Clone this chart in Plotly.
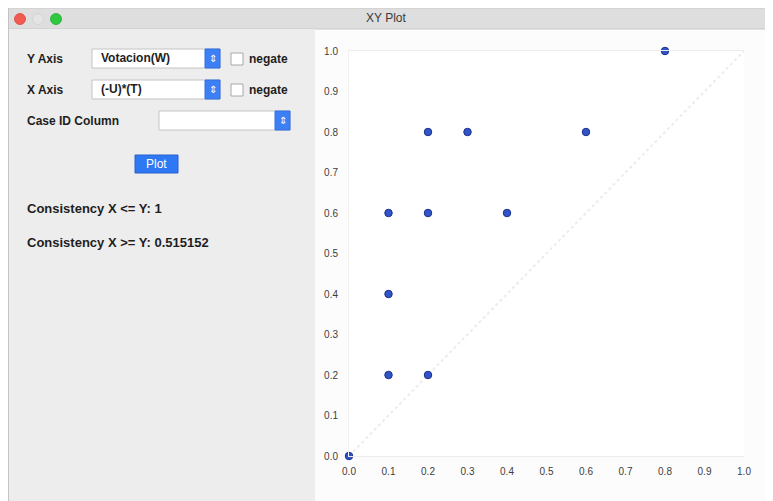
import plotly.graph_objects as go

# ---- data ----
x_vals = [0.0, 0.1, 0.1, 0.1, 0.2, 0.2, 0.2, 0.3, 0.4, 0.6, 0.8]
y_vals = [0.0, 0.2, 0.4, 0.6, 0.2, 0.6, 0.8, 0.8, 0.6, 0.8, 1.0]
diag_x = [0.0, 1.0]
diag_y = [0.0, 1.0]
tick_vals = [i / 10 for i in range(11)]
tick_text = ["0.0", "0.1", "0.2", "0.3", "0.4", "0.5", "0.6", "0.7", "0.8", "0.9", "1.0"]
window_title = "XY Plot"
y_axis_label = "Y Axis"
x_axis_label = "X Axis"
y_choice = "Votacion(W)"
x_choice = "(-U)*(T)"
case_label = "Case ID Column"
negate_label = "negate"
button_label = "Plot"
cons1 = "Consistency X <= Y: 1"
cons2 = "Consistency X >= Y: 0.515152"

W, H = 773, 501
OFF = 8  # page body margin offset
FONT = "Liberation Sans, Arial, sans-serif"


def px(x):
    return (x - OFF) / W


def py(y):
    return 1 - (y - OFF) / H


fig = go.Figure()

fig.add_trace(go.Scatter(
    x=diag_x, y=diag_y, mode="lines",
    line=dict(color="#ececec", width=2, dash="dot"),
    hoverinfo="skip", showlegend=False))

fig.add_trace(go.Scatter(
    x=x_vals, y=y_vals, mode="markers",
    marker=dict(size=7.5, color="#2f55c8", line=dict(color="#1d2f8a", width=1)),
    cliponaxis=False, showlegend=False))

shapes = []


def rect(x0, y0, x1, y1, fill, line=None, lw=0, layer="below"):
    shapes.append(dict(type="rect", xref="paper", yref="paper",
                       x0=px(x0), x1=px(x1), y0=py(y1), y1=py(y0),
                       fillcolor=fill, layer=layer,
                       line=dict(color=line or fill, width=lw)))


# window background pieces
rect(5, 8, W + 20, 29, "#dedede", "#c8c8c8", 1)
rect(5, 29, 315, H + 20, "#ededed")
rect(8, 8, 9, H + 20, "#c4c4c4")
# traffic lights
for cx, col, lc in [(20, "#f25a52", "#d8453e"), (38, "#e4e4e4", "#cfcfcf"), (56, "#2fc940", "#22a830")]:
    shapes.append(dict(type="circle", xref="paper", yref="paper",
                       x0=px(cx - 5.5), x1=px(cx + 5.5), y0=py(19 + 5.5), y1=py(19 - 5.5),
                       fillcolor=col, line=dict(color=lc, width=0.8), layer="above"))


def dropdown(x0, y0, x1, y1):
    rect(x0, y0, x1, y1, "#ffffff", "#c4c4c4", 1, layer="above")
    rect(x1 - 15, y0, x1, y1, "#3d7ff4", "#3270de", 1, layer="above")


dropdown(92, 49, 220, 68)
dropdown(92, 80, 220, 99)
dropdown(159, 111, 290, 130)
# checkboxes
rect(231, 53, 243, 65, "#ffffff", "#a8a8a8", 1, layer="above")
rect(231, 84, 243, 96, "#ffffff", "#a8a8a8", 1, layer="above")
# Plot button
rect(135, 155, 178, 173, "#2f78f4", "#2a5fcf", 1, layer="above")

annotations = []


def text(x, y, s, size=12, color="#1e1e1e", anchor="left", weight="bold"):
    annotations.append(dict(x=px(x), y=py(y), xref="paper", yref="paper", text=s,
                            showarrow=False, xanchor=anchor, yanchor="middle",
                            font=dict(family=FONT, size=size, color=color, weight=weight)))


text(386, 18, window_title, 12, "#3a3a3a", "center", "normal")
text(25, 59, y_axis_label)
text(25, 90, x_axis_label)
text(25, 121, case_label)
text(99, 58, y_choice)
text(99, 89, x_choice)
text(247, 59, negate_label)
text(247, 90, negate_label)
text(156.5, 164, button_label, 12, "#ffffff", "center", "normal")
text(25, 208, cons1, 13)
text(25, 243, cons2, 13)
for cx, cy in [(212.5, 58.5), (212.5, 89.5), (282.5, 120.5)]:
    text(cx, cy, "⇕", 10, "#ffffff", "center", "normal")

fig.update_layout(
    width=W, height=H,
    margin=dict(l=0, r=0, t=0, b=0, pad=0, autoexpand=False),
    paper_bgcolor="#fcfcfc",
    plot_bgcolor="#ffffff",
    shapes=shapes,
    annotations=annotations,
    font=dict(family=FONT, size=10, color="#3c3c3c"),
    xaxis=dict(domain=[px(349), px(744)], range=[0, 1], tickvals=tick_vals, ticktext=tick_text,
               showgrid=False, zeroline=False, showline=True, linecolor="#ececec", linewidth=1,
               mirror=True, ticks="", ticklabelstandoff=6, fixedrange=True, automargin=False),
    yaxis=dict(domain=[py(456), py(51)], range=[0, 1], tickvals=tick_vals, ticktext=tick_text,
               showgrid=False, zeroline=False, showline=True, linecolor="#f0f0f0", linewidth=1,
               ticks="", ticklabelstandoff=8, fixedrange=True, automargin=False),
)

fig.write_html("out.html")
